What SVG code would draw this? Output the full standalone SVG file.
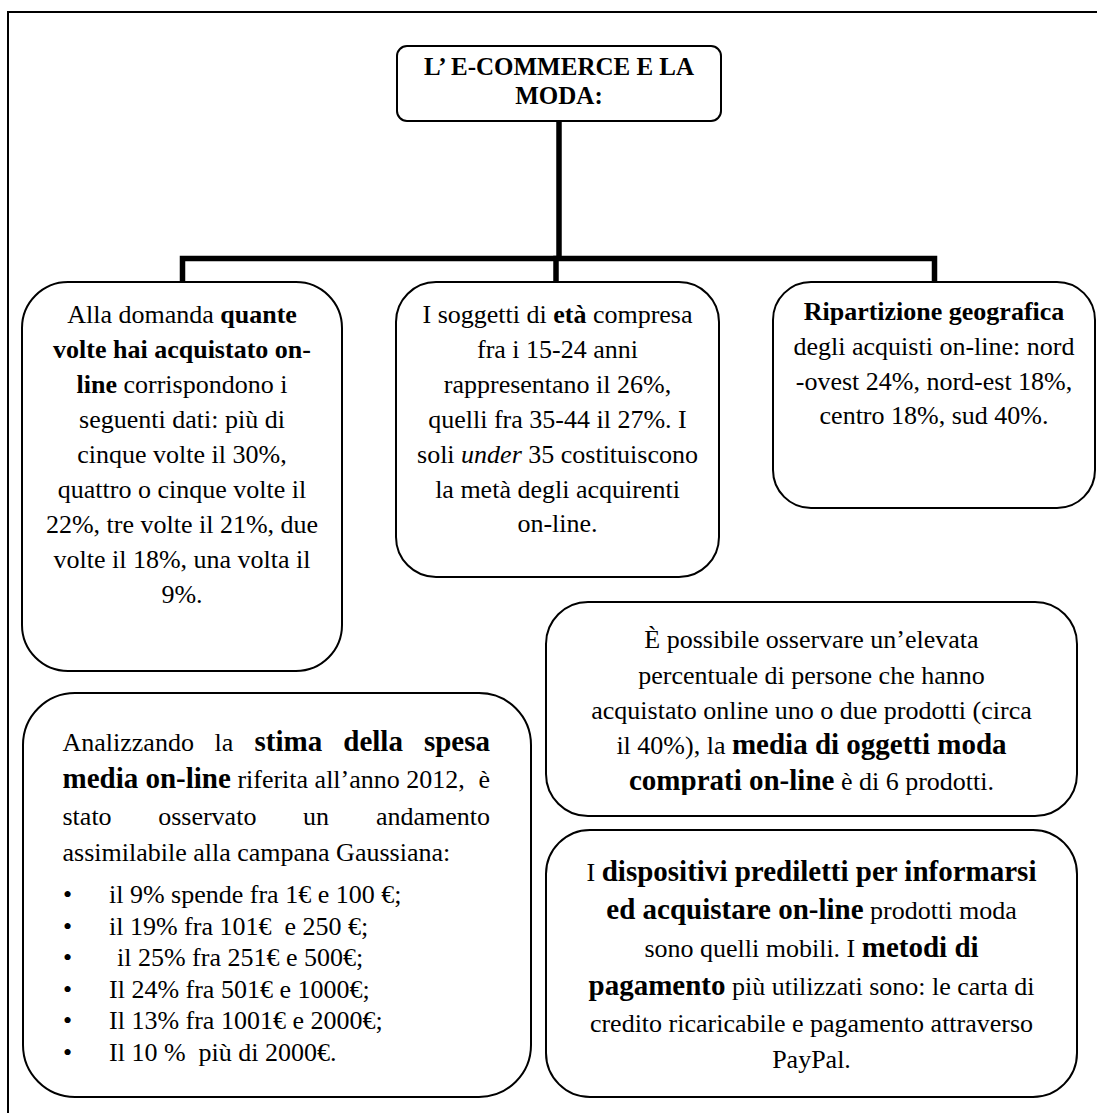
<svg xmlns="http://www.w3.org/2000/svg" width="1097" height="1113" viewBox="0 0 1097 1113">
<defs>
<clipPath id="clip5"><rect x="540" y="600" width="545" height="195"/></clipPath>
</defs>
<rect width="1097" height="1113" fill="#fff"/>
<path d="M8,1113 V12 H1097" fill="none" stroke="#000" stroke-width="2"/>

<g id="connectors" fill="none" stroke="#000" stroke-width="5.5" stroke-linecap="square">
<path d="M559,122 V258"/>
<path d="M182.5,281 V258.5 H934.5 V281"/>
<path d="M556,258.5 V281"/>
</g>

<g id="title">
<rect x="397" y="46" width="324" height="75" rx="10" fill="#fff" stroke="#000" stroke-width="2"/>
<text font-family="Liberation Serif" font-size="25" font-weight="bold" text-anchor="middle" x="559" y="75">L’ E-COMMERCE E LA</text>
<text font-family="Liberation Serif" font-size="25" font-weight="bold" text-anchor="middle" x="559" y="104">MODA:</text>
</g>

<g id="box1">
<rect x="22" y="282" width="320" height="389" rx="46" fill="#fff" stroke="#000" stroke-width="2"/>
<text font-family="Liberation Serif" font-size="26" text-anchor="middle" x="182" y="323">Alla domanda <tspan font-weight="bold">quante</tspan></text>
<text font-family="Liberation Serif" font-size="26" text-anchor="middle" font-weight="bold" x="182" y="358">volte hai acquistato on-</text>
<text font-family="Liberation Serif" font-size="26" text-anchor="middle" x="182" y="393"><tspan font-weight="bold">line</tspan> corrispondono i</text>
<text font-family="Liberation Serif" font-size="26" text-anchor="middle" x="182" y="428">seguenti dati: più di</text>
<text font-family="Liberation Serif" font-size="26" text-anchor="middle" x="182" y="463">cinque volte il 30%,</text>
<text font-family="Liberation Serif" font-size="26" text-anchor="middle" x="182" y="498">quattro o cinque volte il</text>
<text font-family="Liberation Serif" font-size="26" text-anchor="middle" x="182" y="533">22%, tre volte il 21%, due</text>
<text font-family="Liberation Serif" font-size="26" text-anchor="middle" x="182" y="568">volte il 18%, una volta il</text>
<text font-family="Liberation Serif" font-size="26" text-anchor="middle" x="182" y="603">9%.</text>
</g>

<g id="box2">
<rect x="396" y="282" width="323" height="295" rx="40" fill="#fff" stroke="#000" stroke-width="2"/>
<text font-family="Liberation Serif" font-size="26" text-anchor="middle" x="557.5" y="323">I soggetti di <tspan font-weight="bold">età</tspan> compresa</text>
<text font-family="Liberation Serif" font-size="26" text-anchor="middle" x="557.5" y="358">fra i 15-24 anni</text>
<text font-family="Liberation Serif" font-size="26" text-anchor="middle" x="557.5" y="393">rappresentano il 26%,</text>
<text font-family="Liberation Serif" font-size="26" text-anchor="middle" x="557.5" y="428">quelli fra 35-44 il 27%. I</text>
<text font-family="Liberation Serif" font-size="26" text-anchor="middle" x="557.5" y="463">soli <tspan font-style="italic">under</tspan> 35 costituiscono</text>
<text font-family="Liberation Serif" font-size="26" text-anchor="middle" x="557.5" y="498">la metà degli acquirenti</text>
<text font-family="Liberation Serif" font-size="26" text-anchor="middle" x="557.5" y="532">on-line.</text>
</g>

<g id="box3">
<rect x="773" y="282" width="322" height="226" rx="38" fill="#fff" stroke="#000" stroke-width="2"/>
<text font-family="Liberation Serif" font-size="26" text-anchor="middle" font-weight="bold" x="934" y="320">Ripartizione geografica</text>
<text font-family="Liberation Serif" font-size="26" text-anchor="middle" x="934" y="355">degli acquisti on-line: nord</text>
<text font-family="Liberation Serif" font-size="26" text-anchor="middle" x="934" y="390">-ovest 24%, nord-est 18%,</text>
<text font-family="Liberation Serif" font-size="26" text-anchor="middle" x="934" y="424">centro 18%, sud 40%.</text>
</g>

<g id="box4">
<rect x="23" y="693" width="508" height="404" rx="52" fill="#fff" stroke="#000" stroke-width="2"/>
<text font-family="Liberation Serif" font-size="26" y="751"><tspan x="62.5">Analizzando</tspan><tspan x="214.6">la</tspan><tspan font-weight="bold" font-size="29" x="254.5">stima</tspan><tspan font-weight="bold" font-size="29" x="343.3">della</tspan></text>
<text font-family="Liberation Serif" font-size="29" font-weight="bold" x="490" y="751" text-anchor="end">spesa</text>
<text font-family="Liberation Serif" font-size="26" x="62.5" y="788"><tspan font-weight="bold" font-size="29">media on-line</tspan> riferita all’anno 2012,</text>
<text font-family="Liberation Serif" font-size="26" x="490" y="788" text-anchor="end">è</text>
<text font-family="Liberation Serif" font-size="26" y="825"><tspan x="62.5">stato</tspan><tspan x="158.2">osservato</tspan><tspan x="303.1">un</tspan></text>
<text font-family="Liberation Serif" font-size="26" x="490" y="825" text-anchor="end">andamento</text>
<text font-family="Liberation Serif" font-size="26" x="62.5" y="861">assimilabile alla campana Gaussiana:</text>
<text font-family="Liberation Serif" font-size="26" x="63" y="903">•</text>
<text font-family="Liberation Serif" font-size="26" x="109" y="903">il 9% spende fra 1€ e 100 €;</text>
<text font-family="Liberation Serif" font-size="26" x="63" y="934.5">•</text>
<text font-family="Liberation Serif" font-size="26" x="109" y="934.5" xml:space="preserve">il 19% fra 101€  e 250 €;</text>
<text font-family="Liberation Serif" font-size="26" x="63" y="966">•</text>
<text font-family="Liberation Serif" font-size="26" x="117" y="966">il 25% fra 251€ e 500€;</text>
<text font-family="Liberation Serif" font-size="26" x="63" y="997.5">•</text>
<text font-family="Liberation Serif" font-size="26" x="109" y="997.5">Il 24% fra 501€ e 1000€;</text>
<text font-family="Liberation Serif" font-size="26" x="63" y="1029">•</text>
<text font-family="Liberation Serif" font-size="26" x="109" y="1029">Il 13% fra 1001€ e 2000€;</text>
<text font-family="Liberation Serif" font-size="26" x="63" y="1060.5">•</text>
<text font-family="Liberation Serif" font-size="26" x="109" y="1060.5" xml:space="preserve">Il 10 %  più di 2000€.</text>
</g>

<g id="box5">
<rect x="546" y="602" width="531" height="214" rx="42" fill="#fff" stroke="#000" stroke-width="2"/>
<g clip-path="url(#clip5)">
<text font-family="Liberation Serif" font-size="26" text-anchor="middle" x="811.5" y="648">È possibile osservare un’elevata</text>
<text font-family="Liberation Serif" font-size="26" text-anchor="middle" x="811.5" y="684">percentuale di persone che hanno</text>
<text font-family="Liberation Serif" font-size="26" text-anchor="middle" x="811.5" y="719">acquistato online uno o due prodotti (circa</text>
<text font-family="Liberation Serif" font-size="26" text-anchor="middle" x="811.5" y="754">il 40%), la <tspan font-weight="bold" font-size="29">media di oggetti moda</tspan></text>
<text font-family="Liberation Serif" font-size="26" text-anchor="middle" x="811.5" y="790"><tspan font-weight="bold" font-size="29">comprati on-line</tspan> è di 6 prodotti.</text>
</g>
</g>

<g id="box6">
<rect x="546" y="830" width="531" height="267" rx="44" fill="#fff" stroke="#000" stroke-width="2"/>
<text font-family="Liberation Serif" font-size="26" text-anchor="middle" x="811.5" y="881">I <tspan font-weight="bold" font-size="29">dispositivi prediletti per informarsi</tspan></text>
<text font-family="Liberation Serif" font-size="26" text-anchor="middle" x="811.5" y="919"><tspan font-weight="bold" font-size="29">ed acquistare on-line</tspan> prodotti moda</text>
<text font-family="Liberation Serif" font-size="26" text-anchor="middle" x="811.5" y="957">sono quelli mobili. I <tspan font-weight="bold" font-size="29">metodi di</tspan></text>
<text font-family="Liberation Serif" font-size="26" text-anchor="middle" x="811.5" y="995"><tspan font-weight="bold" font-size="29">pagamento</tspan> più utilizzati sono: le carta di</text>
<text font-family="Liberation Serif" font-size="26" text-anchor="middle" x="811.5" y="1032">credito ricaricabile e pagamento attraverso</text>
<text font-family="Liberation Serif" font-size="26" text-anchor="middle" x="811.5" y="1068">PayPal.</text>
</g>
</svg>
